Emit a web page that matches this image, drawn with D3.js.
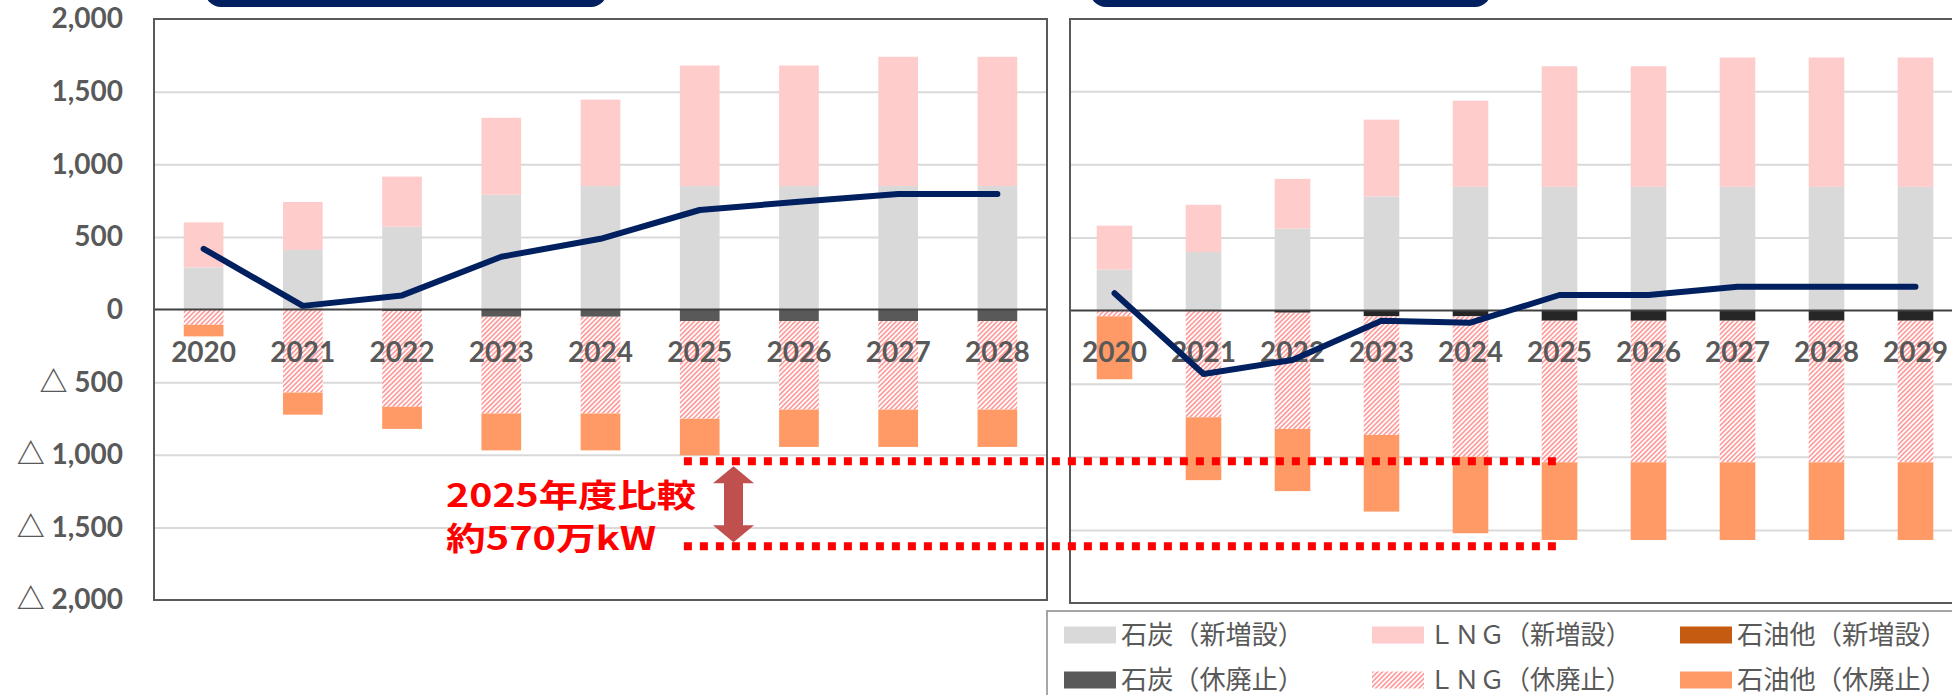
<!DOCTYPE html>
<html><head><meta charset="utf-8">
<script src="https://cdn.jsdelivr.net/npm/d3@7"></script>
<style>body{margin:0;background:#fff;}svg{display:block;}</style>
</head><body>
<script>
// ---------- data ----------
const yearsL = ['2020','2021','2022','2023','2024','2025','2026','2027','2028'];
const coalNewL = [290,410,570,790,850,850,850,850,850];
const lngNewL  = [310,330,345,530,595,830,830,890,890];
const oilNewL  = [0,0,0,0,0,0,0,0,0];
const coalRetL = [0,0,10,50,50,80,80,80,80];
const lngRetL  = [105,572,660,666,666,672,609,609,609];
const oilRetL  = [80,152,152,254,254,252,257,257,257];
const netL     = [418,25,97,363,487,685,742,795,795];

const yearsR = ['2020','2021','2022','2023','2024','2025','2026','2027','2028','2029'];
const coalNewR = [280,400,560,780,845,845,845,845,845,845];
const lngNewR  = [300,323,340,525,590,825,825,885,885,885];
const oilNewR  = [0,0,0,0,0,0,0,0,0,0];
const coalRetR = [0,0,15,40,40,70,70,70,70,70];
const lngRetR  = [40,730,795,811,960,968,968,968,968,968];
const oilRetR  = [430,430,425,524,523,531,531,531,531,531];
const netR     = [118,-434,-338,-70,-83,106,106,163,163,163];

const yTicks = [2000,1500,1000,500,0,-500,-1000,-1500,-2000];
const gridTicks = [1500,1000,500,-500,-1000,-1500];
const annotLevels = [-1045,-1630];
const annotText = ['2025年度比較','約570万kW'];
const legendItems = [
  {key:'coalNew', label:'石炭（新増設）'},
  {key:'lngNew',  label:'ＬＮＧ（新増設）'},
  {key:'oilNew',  label:'石油他（新増設）'},
  {key:'coalRet', label:'石炭（休廃止）'},
  {key:'lngRet',  label:'ＬＮＧ（休廃止）'},
  {key:'oilRet',  label:'石油他（休廃止）'}
];

// ---------- setup ----------
const W = 1952, H = 695;
const svg = d3.select('body').append('svg').attr('width',W).attr('height',H);
const defs = svg.append('defs');
const pat = defs.append('pattern').attr('id','hatch').attr('patternUnits','userSpaceOnUse')
  .attr('width',3.4).attr('height',3.4).attr('patternTransform','rotate(45)');
pat.append('rect').attr('width',3.4).attr('height',3.4).attr('fill','#fff');
pat.append('line').attr('x1',0.8).attr('y1',0).attr('x2',0.8).attr('y2',3.4)
  .attr('stroke','#FF9090').attr('stroke-width',1.5);

const colors = {coalNew:'#D9D9D9', lngNew:'#FFCCCC', oilNew:'#C55A11',
                lngRet:'url(#hatch)', oilRet:'#FF9966'};
const keys = ['coalNew','lngNew','oilNew','coalRet','lngRet','oilRet'];

const numFont = "Lato, 'Noto Sans CJK JP', sans-serif";
const cjkFont = "'Noto Sans CJK JP', sans-serif";

// title boxes (cut off at top)
svg.append('rect').attr('x',205).attr('y',-40).attr('width',402).attr('height',47).attr('rx',16).attr('fill','#002060');
svg.append('rect').attr('x',1090).attr('y',-40).attr('width',401).attr('height',47).attr('rx',16).attr('fill','#002060');

const panels = [
  {years:yearsL, coalNew:coalNewL, lngNew:lngNewL, oilNew:oilNewL, coalRet:coalRetL, lngRet:lngRetL, oilRet:oilRetL, net:netL,
   x0:154, x1:1047, yTop:19, yBot:600, yMaxPx:19, coalRetColor:'#595959'},
  {years:yearsR, coalNew:coalNewR, lngNew:lngNewR, oilNew:oilNewR, coalRet:coalRetR, lngRet:lngRetR, oilRet:oilRetR, net:netR,
   x0:1070, x1:1960, yTop:19, yBot:603, yMaxPx:18, coalRetColor:'#262626'}
];

const scales = [];
panels.forEach((p,pi) => {
  const x = d3.scaleBand().domain(p.years).range([p.x0,p.x1]).paddingInner(0.6).paddingOuter(0.3);
  const y = d3.scaleLinear().domain([-2000,2000]).range([p.yBot,p.yMaxPx]);
  scales.push({x,y});
  const g = svg.append('g');

  // gridlines
  g.append('g').attr('transform',`translate(${p.x0},0)`)
    .call(d3.axisLeft(y).tickValues(gridTicks).tickSize(-(p.x1-p.x0)).tickFormat(''))
    .call(s => s.select('.domain').remove())
    .call(s => s.selectAll('line').attr('stroke','#D9D9D9').attr('stroke-width',2));

  // bars
  const rows = p.years.map((yr,i) => ({year:yr, coalNew:p.coalNew[i], lngNew:p.lngNew[i], oilNew:p.oilNew[i],
    coalRet:-p.coalRet[i], lngRet:-p.lngRet[i], oilRet:-p.oilRet[i]}));
  const stacked = d3.stack().keys(keys).offset(d3.stackOffsetDiverging)(rows);
  stacked.forEach(layer => {
    const fill = layer.key==='coalRet' ? p.coalRetColor : colors[layer.key];
    g.append('g').selectAll('rect').data(layer).join('rect')
      .attr('x', d => x(d.data.year)).attr('width', x.bandwidth())
      .attr('y', d => y(Math.max(d[0],d[1])))
      .attr('height', d => Math.abs(y(d[0])-y(d[1])))
      .attr('fill', fill);
  });

  // zero line
  g.append('line').attr('x1',p.x0).attr('x2',p.x1).attr('y1',y(0)).attr('y2',y(0))
    .attr('stroke','#404040').attr('stroke-width',2);

  // border
  g.append('rect').attr('x',p.x0).attr('y',p.yTop).attr('width',p.x1-p.x0).attr('height',p.yBot-p.yTop)
    .attr('fill','none').attr('stroke','#595959').attr('stroke-width',2);

  // x labels
  g.append('g').attr('transform',`translate(0,352)`)
    .call(d3.axisBottom(x).tickSize(0))
    .call(s => s.select('.domain').remove())
    .call(s => s.selectAll('text').attr('y',0).attr('dy','0.36em')
      .attr('font-family',numFont).attr('font-weight','bold').attr('font-size',28).attr('fill','#595959'));

  // net line
  const line = d3.line().x((d,i) => x(p.years[i]) + x.bandwidth()/2).y(d => y(d));
  g.append('path').datum(p.net).attr('d',line).attr('fill','none')
    .attr('stroke','#002060').attr('stroke-width',6).attr('stroke-linecap','round').attr('stroke-linejoin','round');

  if (pi===0) {
    // y tick labels
    svg.append('g').attr('transform',`translate(${p.x0},0)`)
      .call(d3.axisLeft(y).tickValues(yTicks).tickSize(0).tickPadding(31)
        .tickFormat(d => d<0 ? '△ '+d3.format(',')(-d) : d3.format(',')(d)))
      .call(s => s.select('.domain').remove())
      .call(s => s.selectAll('text').attr('font-family',numFont).attr('font-weight','bold')
        .attr('font-size',28).attr('fill','#595959'));
  }
});

// ---------- annotation ----------
const xL = scales[0].x, yL = scales[0].y, xR = scales[1].x;
const ax0 = xL('2025') + 4, ax1 = xR('2025') + xR.bandwidth()/2;
annotLevels.forEach(v => {
  svg.append('line').attr('x1',ax0).attr('x2',ax1).attr('y1',yL(v)).attr('y2',yL(v))
    .attr('stroke','#FF0000').attr('stroke-width',8).attr('stroke-dasharray','8,8');
});
// double arrow
const acx = 733.5, aTop = yL(annotLevels[0]) + 5, aBot = yL(annotLevels[1]) - 4;
const hw = 20.5, sw = 9.5, hl = 17;
svg.append('path').attr('fill','#C0504D').attr('d',
  `M${acx},${aTop} L${acx+hw},${aTop+hl} L${acx+sw},${aTop+hl} L${acx+sw},${aBot-hl} L${acx+hw},${aBot-hl}
   L${acx},${aBot} L${acx-hw},${aBot-hl} L${acx-sw},${aBot-hl} L${acx-sw},${aTop+hl} L${acx-hw},${aTop+hl} Z`);
svg.append('text').attr('x',446).attr('y',507).text(annotText[0])
  .attr('font-family',cjkFont).attr('font-weight','bold').attr('font-size',32).attr('fill','#FF0000')
  .attr('textLength',250).attr('lengthAdjust','spacingAndGlyphs');
svg.append('text').attr('x',446).attr('y',550).text(annotText[1])
  .attr('font-family',cjkFont).attr('font-weight','bold').attr('font-size',32).attr('fill','#FF0000')
  .attr('textLength',210).attr('lengthAdjust','spacingAndGlyphs');

// ---------- legend ----------
svg.append('rect').attr('x',1047).attr('y',611).attr('width',1000).attr('height',200)
  .attr('fill','#fff').attr('stroke','#A6A6A6').attr('stroke-width',2);
const legCols = [1064,1372,1680];
const legTextW = [[183,202,210],[183,202,210]];
const legRowsY = [635,680];
legendItems.forEach((it,i) => {
  const r = Math.floor(i/3), c = i%3;
  const fill = it.key==='coalRet' ? '#595959' : colors[it.key];
  svg.append('rect').attr('x',legCols[c]).attr('y',legRowsY[r]-8.5).attr('width',52).attr('height',17).attr('fill',fill);
  svg.append('text').attr('x',legCols[c]+57).attr('y',legRowsY[r]).attr('dy','0.36em')
    .text(it.label).attr('font-family',cjkFont).attr('font-size',26).attr('fill','#595959')
    .attr('textLength',legTextW[r][c]).attr('lengthAdjust','spacingAndGlyphs');
});
</script>
</body></html>
